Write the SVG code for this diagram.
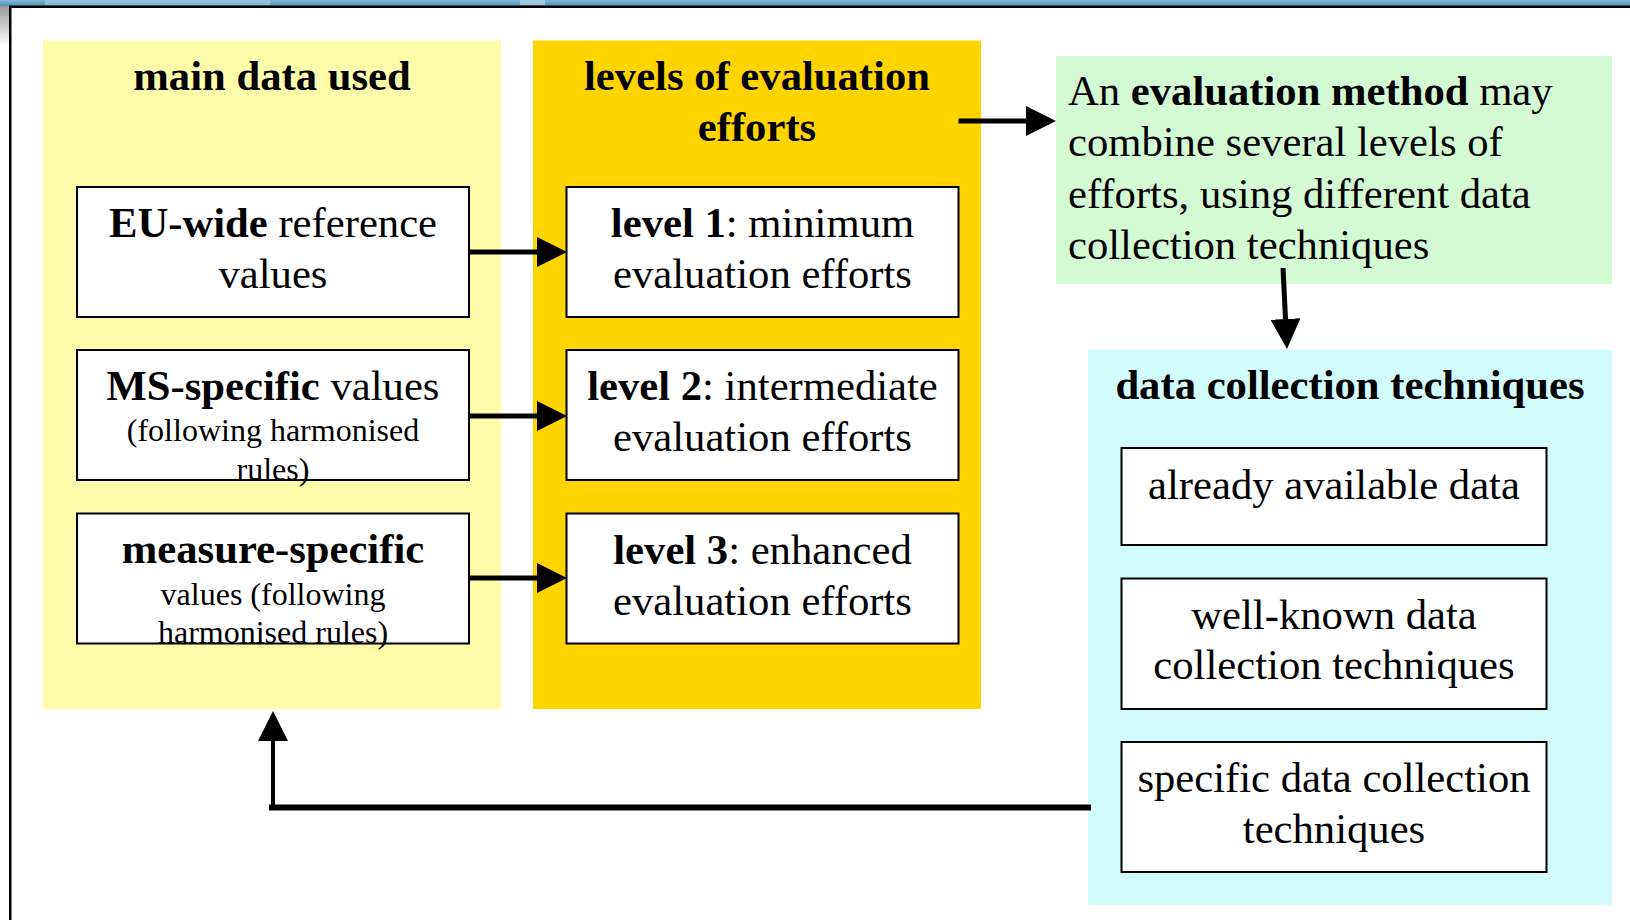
<svg xmlns="http://www.w3.org/2000/svg" width="1630" height="920" viewBox="0 0 1630 920">
  <style>
    text { font-family: "Liberation Serif", "Times New Roman", serif; fill: #000; }
    .big { font-size: 42.67px; }
    .small { font-size: 32px; }
    .b { font-weight: bold; }
    .box { fill: #fff; stroke: #000; stroke-width: 2; }
    .conn { stroke: #000; fill: none; }
  </style>
  <defs>
    <linearGradient id="topbar" x1="0" y1="0" x2="0" y2="1">
      <stop offset="0" stop-color="#7fb6d2"/>
      <stop offset="1" stop-color="#4f97bb"/>
    </linearGradient>
    <linearGradient id="leftfade" x1="0" y1="0" x2="0" y2="1">
      <stop offset="0" stop-color="#9a9a9a"/>
      <stop offset="1" stop-color="#ffffff"/>
    </linearGradient>
    <marker id="ah" markerUnits="userSpaceOnUse" markerWidth="30" markerHeight="30" refX="0" refY="15" orient="auto">
      <path d="M0,0 L30,15 L0,30 Z" fill="#000"/>
    </marker>
  </defs>

  <rect x="0" y="0" width="1630" height="920" fill="#fff"/>

  <!-- window chrome -->
  <g id="chrome">
    <rect x="0" y="0" width="1630" height="6" fill="url(#topbar)"/>
    <rect x="45" y="0" width="225" height="5" fill="#a9cde2" opacity="0.6"/>
    <rect x="520" y="0" width="25" height="5" fill="#b8d4ea" opacity="0.7"/>
    <rect x="0" y="6" width="9" height="40" fill="url(#leftfade)"/>
    <rect x="9" y="5.5" width="1621" height="2.5" fill="#000"/>
    <rect x="9" y="6" width="2.5" height="914" fill="#000"/>
  </g>

  <!-- panels -->
  <g id="panel-main-data">
    <rect x="43" y="40.5" width="458" height="668.5" fill="#FFFCAA"/>
    <text class="big b" x="272" y="90" text-anchor="middle">main data used</text>
  </g>
  <g id="panel-levels">
    <rect x="533" y="40.5" width="448" height="668.5" fill="#FFD400"/>
    <text class="big b" x="757" y="90" text-anchor="middle">levels of evaluation</text>
    <text class="big b" x="757" y="141" text-anchor="middle">efforts</text>
  </g>
  <g id="panel-method">
    <rect x="1056" y="56" width="556" height="228" fill="#D4FAD4"/>
    <text class="big" x="1068" y="104.5">An <tspan class="b">evaluation method</tspan> may</text>
    <text class="big" x="1068" y="156">combine several levels of</text>
    <text class="big" x="1068" y="207.5">efforts, using different data</text>
    <text class="big" x="1068" y="259">collection techniques</text>
  </g>
  <g id="panel-techniques">
    <rect x="1088" y="350" width="524" height="555" fill="#D2FBFC"/>
    <text class="big b" x="1350" y="399" text-anchor="middle">data collection techniques</text>
  </g>

  <!-- nodes: main data -->
  <g id="node-eu-wide">
    <rect class="box" x="77" y="187" width="392" height="130"/>
    <text class="big" x="273" y="237" text-anchor="middle"><tspan class="b">EU-wide</tspan> reference</text>
    <text class="big" x="273" y="288" text-anchor="middle">values</text>
  </g>
  <g id="node-ms-specific">
    <rect class="box" x="77" y="350" width="392" height="130"/>
    <text class="big" x="273" y="400" text-anchor="middle"><tspan class="b">MS-specific</tspan> values</text>
    <text class="small" x="273" y="440.5" text-anchor="middle">(following harmonised</text>
    <text class="small" x="273" y="479.5" text-anchor="middle">rules)</text>
  </g>
  <g id="node-measure-specific">
    <rect class="box" x="77" y="513.5" width="392" height="130"/>
    <text class="big b" x="273" y="563" text-anchor="middle">measure-specific</text>
    <text class="small" x="273" y="605" text-anchor="middle">values (following</text>
    <text class="small" x="273" y="642.5" text-anchor="middle">harmonised rules)</text>
  </g>

  <!-- nodes: levels -->
  <g id="node-level1">
    <rect class="box" x="566.5" y="187" width="392" height="130"/>
    <text class="big" x="762.5" y="237" text-anchor="middle"><tspan class="b">level 1</tspan>: minimum</text>
    <text class="big" x="762.5" y="288" text-anchor="middle">evaluation efforts</text>
  </g>
  <g id="node-level2">
    <rect class="box" x="566.5" y="350" width="392" height="130"/>
    <text class="big" x="762.5" y="400" text-anchor="middle"><tspan class="b">level 2</tspan>: intermediate</text>
    <text class="big" x="762.5" y="451" text-anchor="middle">evaluation efforts</text>
  </g>
  <g id="node-level3">
    <rect class="box" x="566.5" y="513.5" width="392" height="130"/>
    <text class="big" x="762.5" y="563.5" text-anchor="middle"><tspan class="b">level 3</tspan>: enhanced</text>
    <text class="big" x="762.5" y="614.5" text-anchor="middle">evaluation efforts</text>
  </g>

  <!-- nodes: techniques -->
  <g id="node-available">
    <rect class="box" x="1121.5" y="448" width="425" height="97"/>
    <text class="big" x="1334" y="498.5" text-anchor="middle">already available data</text>
  </g>
  <g id="node-well-known">
    <rect class="box" x="1121.5" y="578.5" width="425" height="130.5"/>
    <text class="big" x="1334" y="628.5" text-anchor="middle">well-known data</text>
    <text class="big" x="1334" y="678.5" text-anchor="middle">collection techniques</text>
  </g>
  <g id="node-specific">
    <rect class="box" x="1121.5" y="742" width="425" height="130"/>
    <text class="big" x="1334" y="791.5" text-anchor="middle">specific data collection</text>
    <text class="big" x="1334" y="842.5" text-anchor="middle">techniques</text>
  </g>

  <!-- connectors -->
  <g id="connectors">
    <line class="conn" x1="469" y1="252" x2="537" y2="252" stroke-width="5" marker-end="url(#ah)"/>
    <line class="conn" x1="469" y1="416" x2="537" y2="416" stroke-width="5" marker-end="url(#ah)"/>
    <line class="conn" x1="469" y1="578" x2="537" y2="578" stroke-width="5" marker-end="url(#ah)"/>
    <line class="conn" x1="958.5" y1="121" x2="1026" y2="121" stroke-width="5" marker-end="url(#ah)"/>
    <line class="conn" x1="1283" y1="268" x2="1285.5" y2="319" stroke-width="5" marker-end="url(#ah)"/>
    <line class="conn" x1="1091" y1="807.5" x2="269" y2="807.5" stroke-width="6"/>
    <line class="conn" x1="273" y1="807" x2="273" y2="741" stroke-width="4" marker-end="url(#ah)"/>
  </g>
</svg>
